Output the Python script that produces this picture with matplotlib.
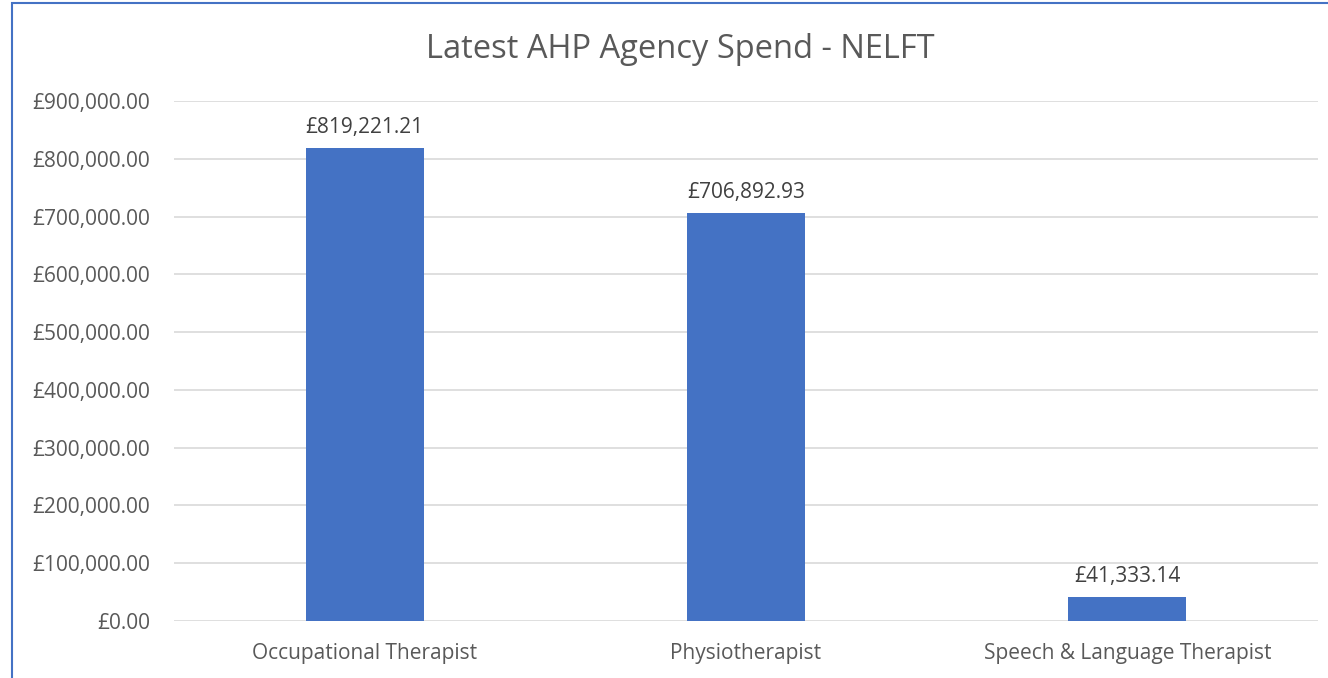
import matplotlib
matplotlib.use('Agg')
import matplotlib.pyplot as plt
import matplotlib.ticker as mticker
from matplotlib.patches import Rectangle

# Data
categories = ['Occupational Therapist', 'Physiotherapist', 'Speech & Language Therapist']
spend = [819221.21, 706892.93, 41333.14]
y_ticks = [0, 100000, 200000, 300000, 400000, 500000, 600000, 700000, 800000, 900000]

plt.rcParams['font.family'] = ['Open Sans', 'DejaVu Sans']

fig = plt.figure(figsize=(13.28, 6.78), dpi=100)
ax = fig.add_axes([174 / 1328, 1 - 621 / 678, 1144 / 1328, 520 / 678])

x = range(len(categories))
bars = ax.bar(x, spend, width=0.31, color='#4472C4', zorder=3)

# Value labels above bars
for rect, val in zip(bars, spend):
    ax.annotate('£{:,.2f}'.format(val), (rect.get_x() + rect.get_width() / 2, rect.get_height()),
                xytext=(0, 7), textcoords='offset points', ha='center', va='bottom',
                fontsize=15, color='#404040')

ax.set_xlim(-0.5, 2.5)
ax.set_ylim(0, 900000)
ax.set_yticks(y_ticks)
ax.yaxis.set_major_formatter(mticker.FuncFormatter(lambda v, p: '£{:,.2f}'.format(v)))
ax.set_xticks(list(x))
ax.set_xticklabels(categories)
ax.tick_params(axis='both', length=0, labelsize=15, labelcolor='#595959')
ax.tick_params(axis='y', pad=17)
ax.tick_params(axis='x', pad=16)
ax.grid(axis='y', color='#D9D9D9', linewidth=1.2, zorder=0)
for side in ['top', 'right', 'left', 'bottom']:
    ax.spines[side].set_visible(False)

fig.text(680 / 1328, 1 - 49 / 678, 'Latest AHP Agency Spend - NELFT', ha='center', va='center',
         fontsize=23.5, color='#595959')

# Chart border
fig.patches.append(Rectangle((12 / 1328, -0.1), 1.2, 1.1 - 3 / 678, transform=fig.transFigure,
                             fill=False, edgecolor='#4472C4', linewidth=1.5))

fig.savefig('out.png', dpi=100)
